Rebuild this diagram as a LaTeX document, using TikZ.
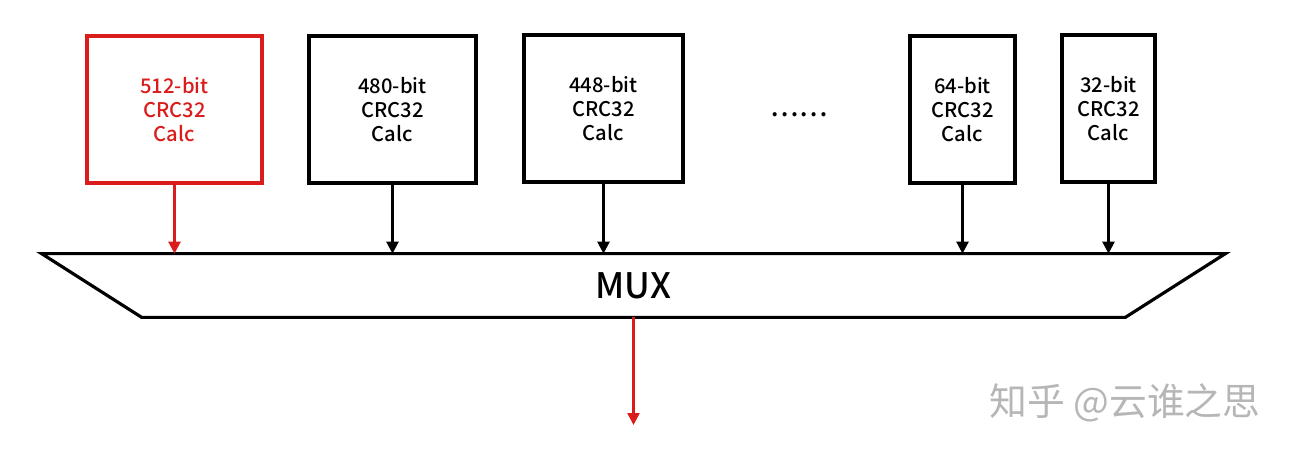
\documentclass[tikz,border=0pt]{standalone}
\usepackage{fontspec}
\setmainfont{Noto Sans CJK SC}[BoldFont={Noto Sans CJK SC Medium}]
\usepackage{tikz}
\usetikzlibrary{arrows.meta}
\definecolor{calcred}{RGB}{218,28,28}
\definecolor{markgray}{RGB}{182,182,182}
\tikzstyle{Calc}=[rectangle, minimum height=2.94cm, draw=black, line width=1.8pt, align=center, font=\fontsize{11.5}{13.6}\selectfont\bfseries]
\tikzstyle{Feed}=[-{Triangle[length=0.24cm, width=0.24cm]}, line width=1.4pt]

\begin{document}
\begin{tikzpicture}
    \useasboundingbox (0,0) rectangle (25.92,9.08);
    \path
    (3.49,6.89) node[Calc, minimum width=3.5cm, draw=calcred, text=calcred] (c512) {512-bit\\CRC32\\Calc}
    (7.85,6.89) node[Calc, minimum width=3.34cm] (c480) {480-bit\\CRC32\\Calc}
    (12.07,6.91) node[Calc, minimum width=3.18cm] (c448) {448-bit\\CRC32\\Calc}
    (19.25,6.89) node[Calc, minimum width=2.1cm] (c64) {64-bit\\CRC32\\Calc}
    (22.17,6.91) node[Calc, minimum width=1.86cm] (c32) {32-bit\\CRC32\\Calc}
    (15.98,6.78) node[font=\fontsize{15}{18}\selectfont\bfseries] (more) {……}
    (12.67,3.37) node[minimum width=23.66cm, minimum height=1.26cm, font=\fontsize{20}{24}\selectfont\bfseries] (mux) {MUX};
    \path (22.5,1.02) node[text=markgray, font=\fontsize{21.5}{24}\selectfont] (mark) {知乎 @云谁之思};
    \coordinate (out) at (12.67,0.58);

    \draw[line width=1.8pt] (mux.north west) -- (mux.north east) -- ([xshift=-2cm]mux.south east) -- ([xshift=2cm]mux.south west) -- cycle;
    \draw[Feed, calcred] (c512) -- (c512 |- mux.north);
    \draw[Feed] (c480) -- (c480 |- mux.north);
    \draw[Feed] (c448) -- (c448 |- mux.north);
    \draw[Feed] (c64) -- (c64 |- mux.north);
    \draw[Feed] (c32) -- (c32 |- mux.north);
    \draw[Feed, calcred] (mux.south) -- (out);
\end{tikzpicture}
\end{document}
